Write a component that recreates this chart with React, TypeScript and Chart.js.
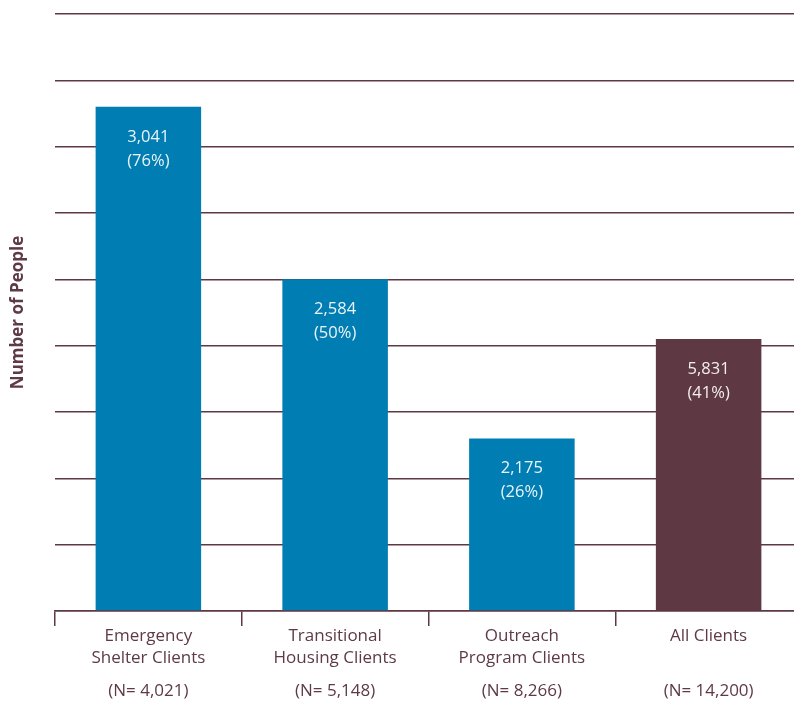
import React, { useEffect, useRef } from 'react';
import { Chart, registerables } from 'chart.js';

Chart.register(...registerables);

const categories: string[][] = [
  ['Emergency', 'Shelter Clients'],
  ['Transitional', 'Housing Clients'],
  ['Outreach', 'Program Clients'],
  ['All Clients'],
];
const totals = ['(N= 4,021)', '(N= 5,148)', '(N= 8,266)', '(N= 14,200)'];
const people = ['3,041', '2,584', '2,175', '5,831'];
const percents = [76, 50, 26, 41];

const BLUE = '#007db2';
const MAROON = '#5e3843';
const TEXT = '#5e3a46';
const FONT = "'Open Sans', sans-serif";

// white number + percentage near the top of each bar, N= line under the axis labels
const barText = {
  id: 'barText',
  afterDatasetsDraw(chart: Chart) {
    const { ctx, chartArea } = chart;
    const meta = chart.getDatasetMeta(0);
    const xScale = chart.scales.x;
    ctx.save();
    ctx.textAlign = 'center';
    ctx.textBaseline = 'middle';
    ctx.font = `16.5px ${FONT}`;
    meta.data.forEach((bar: any, i: number) => {
      ctx.fillStyle = 'rgba(255,255,255,0.92)';
      ctx.fillText(people[i], bar.x, bar.y + 30);
      ctx.fillText(`(${percents[i]}%)`, bar.x, bar.y + 54);
      ctx.fillStyle = TEXT;
      ctx.font = `17px ${FONT}`;
      ctx.fillText(totals[i], xScale.getPixelForValue(i), chartArea.bottom + 80);
      ctx.font = `16.5px ${FONT}`;
    });
    ctx.restore();
  },
};

export default function App() {
  const chartRef = useRef<HTMLCanvasElement>(null);
  const chartInstanceRef = useRef<Chart | null>(null);

  useEffect(() => {
    document.body.style.margin = '0';
    document.body.style.overflow = 'hidden';
    if (!chartRef.current) return;
    const ctx = chartRef.current.getContext('2d');
    if (!ctx) return;
    if (chartInstanceRef.current) chartInstanceRef.current.destroy();

    chartInstanceRef.current = new Chart(ctx, {
      type: 'bar',
      data: {
        labels: categories,
        datasets: [{
          data: percents,
          backgroundColor: [BLUE, BLUE, BLUE, MAROON],
          borderWidth: 0,
          barPercentage: 0.565,
          categoryPercentage: 1,
        }],
      },
      options: {
        animation: false,
        responsive: false,
        maintainAspectRatio: false,
        layout: { padding: { top: 14, left: 0, right: 0, bottom: 0 } },
        plugins: {
          legend: { display: false },
          tooltip: { enabled: false },
        },
        scales: {
          x: {
            afterFit(scale: any) { scale.height = 93; },
            grid: {
              offset: true,
              drawOnChartArea: false,
              drawTicks: true,
              tickLength: 15,
              color: MAROON,
              lineWidth: 1.5,
            },
            border: { display: true, color: MAROON, width: 1.5 },
            ticks: {
              color: TEXT,
              padding: 0,
              font: { family: FONT, size: 17, lineHeight: 1.25 },
              maxRotation: 0,
              autoSkip: false,
            },
          },
          y: {
            min: 0,
            max: 90,
            afterFit(scale: any) { scale.width = 55; },
            ticks: { display: false, stepSize: 10 },
            grid: { color: MAROON, lineWidth: 1.5, drawTicks: false },
            border: { display: false },
            title: {
              display: true,
              text: 'Number of People',
              color: TEXT,
              padding: { top: 8, bottom: 0 },
              font: { family: FONT, size: 17, weight: 'bold' },
            },
          },
        },
      },
      plugins: [barText],
    });

    return () => {
      if (chartInstanceRef.current) {
        chartInstanceRef.current.destroy();
        chartInstanceRef.current = null;
      }
    };
  }, []);

  return (
    <div style={{ width: 794, height: 704, overflow: 'hidden', background: '#fff' }}>
      <canvas ref={chartRef} width={802} height={704} style={{ display: 'block', width: 802, height: 704 }}></canvas>
    </div>
  );
}
